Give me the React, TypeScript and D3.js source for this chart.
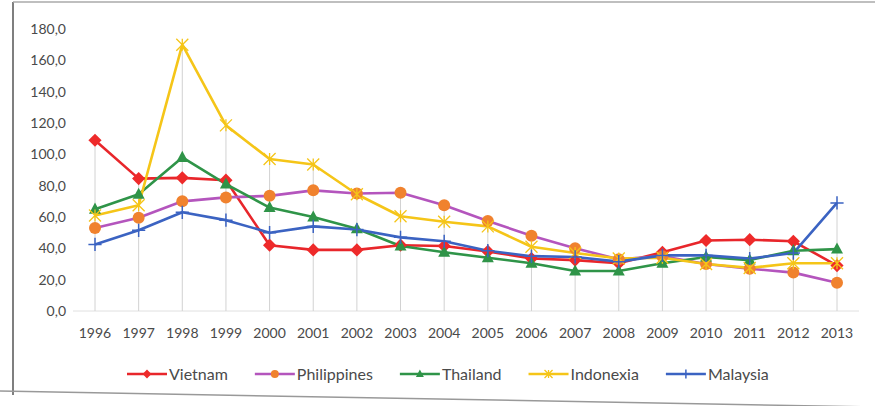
import React, { useEffect, useRef } from "react";
import * as d3 from "d3";

const years = [
  "1996", "1997", "1998", "1999", "2000", "2001", "2002", "2003", "2004",
  "2005", "2006", "2007", "2008", "2009", "2010", "2011", "2012", "2013",
];

const vietnam = [109, 84.5, 85, 83.5, 42, 39, 39, 42, 41.5, 38, 33.5, 32.5, 30.5, 37.5, 45, 45.5, 44.5, 29];
const philippines = [53, 59.5, 70, 72.5, 73.5, 77, 75, 75.5, 67.5, 57.5, 48, 40, 33, 35, 30, 27, 24.5, 18];
const thailand = [65, 74.5, 98, 81, 66, 60, 52.5, 41.5, 37.5, 34, 30.5, 25.5, 25.5, 30.5, 34.5, 32.5, 38.5, 39.5];
const indonexia = [61, 67.5, 170, 118.5, 97, 93.5, 74.5, 60.5, 57, 54, 41, 37, 33.5, 34, 30, 27.5, 30.5, 30.5];
const malaysia = [42.5, 51.5, 63, 58, 50, 54, 52, 47, 44.5, 38.5, 35, 34.5, 31.5, 35.5, 35.5, 33.5, 37, 69];

const yTicks = [0, 20, 40, 60, 80, 100, 120, 140, 160, 180];

type Marker = "diamond" | "circle" | "triangle" | "star" | "plus";

const series: { name: string; values: number[]; line: string; fill: string; marker: Marker }[] = [
  { name: "Vietnam", values: vietnam, line: "#e8262b", fill: "#ee2a2a", marker: "diamond" },
  { name: "Philippines", values: philippines, line: "#b455bd", fill: "#f0822e", marker: "circle" },
  { name: "Thailand", values: thailand, line: "#2f9448", fill: "#2f9448", marker: "triangle" },
  { name: "Indonexia", values: indonexia, line: "#f5c518", fill: "#f5c518", marker: "star" },
  { name: "Malaysia", values: malaysia, line: "#3b63c2", fill: "#3b63c2", marker: "plus" },
];

const FONT = "Lato, 'Open Sans', sans-serif";
const TEXT = "#4a4a4a";

function drawMarker(
  g: d3.Selection<SVGGElement, unknown, null, undefined>,
  kind: Marker,
  x: number,
  y: number,
  s: number,
  line: string,
  fill: string
) {
  const r = s * 0.5;
  if (kind === "diamond") {
    const p = d3.path();
    p.moveTo(x, y - r * 1.1);
    p.lineTo(x + r * 1.1, y);
    p.lineTo(x, y + r * 1.1);
    p.lineTo(x - r * 1.1, y);
    p.closePath();
    g.append("path").attr("d", p.toString()).attr("fill", fill);
  } else if (kind === "circle") {
    g.append("circle").attr("cx", x).attr("cy", y).attr("r", r).attr("fill", fill);
  } else if (kind === "triangle") {
    const p = d3.path();
    p.moveTo(x, y - r * 1.1);
    p.lineTo(x + r, y + r * 0.75);
    p.lineTo(x - r, y + r * 0.75);
    p.closePath();
    g.append("path").attr("d", p.toString()).attr("fill", fill);
  } else if (kind === "star") {
    const p = d3.path();
    p.moveTo(x - r, y - r);
    p.lineTo(x + r, y + r);
    p.moveTo(x + r, y - r);
    p.lineTo(x - r, y + r);
    p.moveTo(x, y - r);
    p.lineTo(x, y + r);
    g.append("path").attr("d", p.toString()).attr("stroke", fill).attr("stroke-width", 1.3).attr("fill", "none");
  } else {
    const q = r * 1.1;
    const p = d3.path();
    p.moveTo(x - q, y);
    p.lineTo(x + q, y);
    p.moveTo(x, y - q);
    p.lineTo(x, y + q);
    g.append("path").attr("d", p.toString()).attr("stroke", line).attr("stroke-width", 1.5).attr("fill", "none");
  }
}

export default function App() {
  const ref = useRef<SVGSVGElement | null>(null);

  useEffect(() => {
    document.body.style.margin = "0";
    const svg = d3.select(ref.current as SVGSVGElement);
    svg.selectAll("*").remove();

    const x = d3.scalePoint<string>().domain(years).range([95, 837]);
    const y = d3.scaleLinear().domain([0, 180]).range([311, 29]);
    const fmt = (v: number) => d3.format(".1f")(v).replace(".", ",");

    // frame of the chart area
    svg.append("line").attr("x1", 13).attr("y1", 2).attr("x2", 13).attr("y2", 395)
      .attr("stroke", "#555").attr("stroke-width", 1.5);
    svg.append("line").attr("x1", 13).attr("y1", 2).attr("x2", 875).attr("y2", 2)
      .attr("stroke", "#aaa").attr("stroke-width", 1.5);
    svg.append("line").attr("x1", 0).attr("y1", 391).attr("x2", 875).attr("y2", 407)
      .attr("stroke", "#999").attr("stroke-width", 1.5);

    // y axis labels
    const yAxis = svg.append("g").attr("font-family", FONT).attr("font-size", 14).attr("fill", TEXT);
    yTicks.forEach((t) => {
      yAxis.append("text")
        .attr("x", 66)
        .attr("y", y(t))
        .attr("dy", "0.35em")
        .attr("text-anchor", "end")
        .text(fmt(t));
    });

    // baseline
    svg.append("line")
      .attr("x1", 73).attr("x2", 859)
      .attr("y1", y(0)).attr("y2", y(0))
      .attr("stroke", "#e0e0e0").attr("stroke-width", 1);

    // drop lines from the highest value of each year
    const drops = svg.append("g");
    years.forEach((yr, i) => {
      const top = d3.max(series, (s) => s.values[i]) as number;
      drops.append("line")
        .attr("x1", x(yr)!).attr("x2", x(yr)!)
        .attr("y1", y(top)).attr("y2", y(0))
        .attr("stroke", "#d2d2d2").attr("stroke-width", 1);
    });

    // x axis labels
    const xAxis = svg.append("g").attr("font-family", FONT).attr("font-size", 14).attr("fill", TEXT);
    years.forEach((yr) => {
      xAxis.append("text")
        .attr("x", x(yr)!)
        .attr("y", 333)
        .attr("dy", "0.35em")
        .attr("text-anchor", "middle")
        .text(yr);
    });

    // series lines and markers
    const lineGen = d3.line<number>()
      .x((_, i) => x(years[i])!)
      .y((v) => y(v));

    series.forEach((s) => {
      svg.append("path")
        .attr("d", lineGen(s.values))
        .attr("fill", "none")
        .attr("stroke", s.line)
        .attr("stroke-width", 2.6)
        .attr("stroke-linejoin", "round");
    });
    series.forEach((s) => {
      const g = svg.append("g");
      s.values.forEach((v, i) => {
        drawMarker(g, s.marker, x(years[i])!, y(v), 12, s.line, s.fill);
      });
    });

    // legend
    const legend = svg.append("g").attr("font-family", FONT).attr("font-size", 16).attr("fill", TEXT);
    let cx = 127;
    const ly = 374;
    series.forEach((s) => {
      const g = legend.append("g");
      g.append("line")
        .attr("x1", cx).attr("x2", cx + 40)
        .attr("y1", ly).attr("y2", ly)
        .attr("stroke", s.line).attr("stroke-width", 2.6);
      drawMarker(g as any, s.marker, cx + 20, ly, 8, s.line, s.fill);
      const t = g.append("text")
        .attr("x", cx + 42)
        .attr("y", ly)
        .attr("dy", "0.35em")
        .text(s.name);
      const w = (t.node() as SVGTextElement).getComputedTextLength();
      cx = cx + 42 + w + 27;
    });
  }, []);

  return <svg ref={ref} width={875} height={406} style={{ display: "block", background: "#fff" }} />;
}
